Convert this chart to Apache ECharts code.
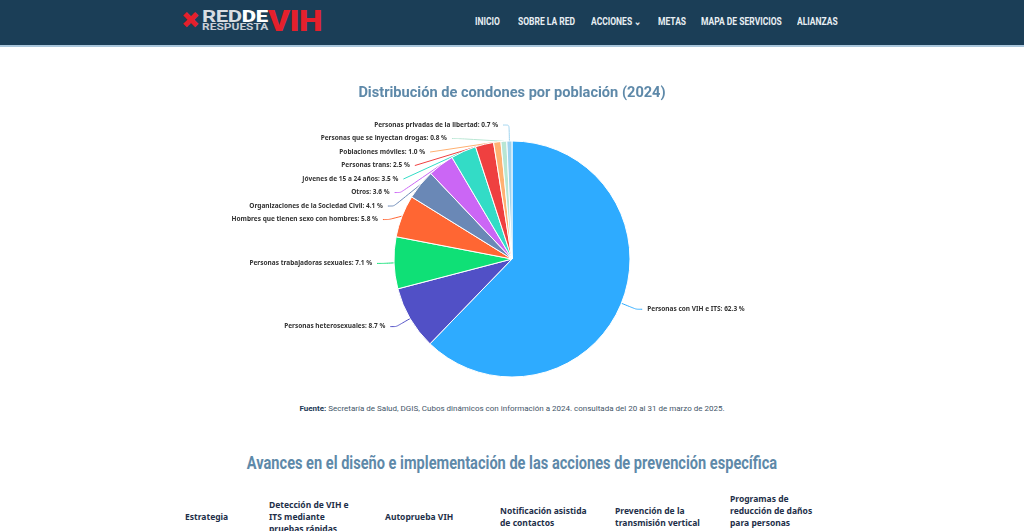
<!DOCTYPE html>
<html>
<head>
<meta charset="utf-8">
<script src="https://cdn.jsdelivr.net/npm/echarts@6/dist/echarts.min.js"></script>
<style>
  html,body{margin:0;padding:0;background:#fff;width:1024px;height:531px;overflow:hidden;font-family:"Noto Sans",Roboto,sans-serif;}
  #hdr{position:absolute;left:0;top:0;width:1024px;height:45px;background:#1b3e57;border-bottom:2px solid #a9c6dc;}
  .logo{position:absolute;left:181px;top:9px;height:24px;}
  .ico{position:absolute;left:0;top:0px;color:#e4202c;font-size:23px;font-weight:bold;font-family:"DejaVu Sans";line-height:23px;}
  .red1{position:absolute;left:21px;top:0px;font-family:Roboto,sans-serif;font-weight:bold;font-size:17px;line-height:15px;color:#d9dde2;letter-spacing:-0.3px;transform:scaleX(1.3);transform-origin:left top;}
  .red1 b{color:#fff;}
  .resp{position:absolute;left:21px;top:14px;font-family:Roboto,sans-serif;font-weight:bold;font-size:9px;line-height:9px;color:#c9ced6;letter-spacing:0px;transform:scaleX(1.33);transform-origin:left top;}
  .vih{position:absolute;left:87px;top:-1px;font-family:Roboto,sans-serif;font-weight:900;font-size:29px;line-height:26px;color:#e4202c;letter-spacing:-0.5px;transform:scaleX(1.15);transform-origin:left top;}
  .nav{position:absolute;top:16px;color:#e8eef3;font-family:Roboto,sans-serif;font-size:10px;font-weight:bold;white-space:nowrap;line-height:12px;transform:scaleX(0.85);transform-origin:left top;}
  #chart{position:absolute;left:0;top:47px;width:1024px;height:350px;}
  #fuente{position:absolute;left:0;width:1024px;top:404px;text-align:center;font-size:8px;color:#3f5568;font-family:Roboto,sans-serif;}
  #fuente b{color:#1d3a57;}
  #h2{position:absolute;left:0;width:1024px;top:452px;text-align:center;font-size:18px;color:#5e89a9;font-family:Roboto,sans-serif;font-weight:bold;line-height:22px;transform:scaleX(0.81);transform-origin:center top;}
  .th{position:absolute;font-size:8.5px;font-weight:bold;color:#1e2f49;line-height:12px;font-family:"Noto Sans",sans-serif;}
</style>
</head>
<body>
<div id="hdr">
  <div class="logo">
    <div class="ico">✖</div>
    <div class="red1">RED<b>DE</b></div>
    <div class="resp">RESPUESTA</div>
    <div class="vih">VIH</div>
  </div>
  <div class="nav" style="left:475px">INICIO</div>
  <div class="nav" style="left:518px">SOBRE LA RED</div>
  <div class="nav" style="left:591px">ACCIONES &#8964;</div>
  <div class="nav" style="left:658px">METAS</div>
  <div class="nav" style="left:701px">MAPA DE SERVICIOS</div>
  <div class="nav" style="left:797px">ALIANZAS</div>
</div>
<div id="chart"></div>
<div id="fuente"><b>Fuente:</b> Secretaría de Salud, DGIS, Cubos dinámicos con información a 2024. consultada del 20 al 31 de marzo de 2025.</div>
<div id="h2">Avances en el diseño e implementación de las acciones de prevención específica</div>
<div class="th" style="left:185px;top:511px">Estrategia</div>
<div class="th" style="left:269px;top:499px">Detección de VIH e<br>ITS mediante<br>pruebas rápidas</div>
<div class="th" style="left:385px;top:511px">Autoprueba VIH</div>
<div class="th" style="left:500px;top:505px">Notificación asistida<br>de contactos</div>
<div class="th" style="left:615px;top:505px">Prevención de la<br>transmisión vertical</div>
<div class="th" style="left:730px;top:493px">Programas de<br>reducción de daños<br>para personas<br>que usan drogas</div>
<script>
const categories = [
  "Personas con VIH e ITS",
  "Personas heterosexuales",
  "Personas trabajadoras sexuales",
  "Hombres que tienen sexo con hombres",
  "Organizaciones de la Sociedad Civil",
  "Otros",
  "Jóvenes de 15 a 24 años",
  "Personas trans",
  "Poblaciones móviles",
  "Personas que se inyectan drogas",
  "Personas privadas de la libertad"
];
const values = [62.3, 8.7, 7.1, 5.8, 4.1, 3.6, 3.5, 2.5, 1.0, 0.8, 0.7];
const colors = ["#2eabff","#5150c6","#0fe076","#ff6633","#6a88b6","#cb66f5","#33dcc6","#ef4040","#ffb071","#b8e6d3","#9fd3ee"];

const chart = echarts.init(document.getElementById('chart'));
chart.setOption({
  animation: false,
  title: {
    text: "Distribución de condones por población (2024)",
    left: 'center', top: 34,
    textStyle: {fontSize: 14.6, fontWeight: 'bold', color: '#5e89a9', fontFamily: 'Roboto, sans-serif'}
  },
  color: colors,
  series: [{
    type: 'pie',
    center: [512, 212],
    radius: 118,
    startAngle: 90,
    clockwise: true,
    data: categories.map((c, i) => ({name: c, value: values[i]})),
    itemStyle: {borderColor: '#fff', borderWidth: 1},
    label: {
      formatter: p => p.name + ': ' + p.value.toFixed(1) + ' %',
      fontSize: 6.5, fontWeight: 'bold', color: '#333',
      fontFamily: '"Noto Sans", sans-serif', lineHeight: 11.5
    },
    labelLine: {length: 16, length2: 6, smooth: 0.2, lineStyle: {width: 1}}
  }]
});
</script>
</body>
</html>
